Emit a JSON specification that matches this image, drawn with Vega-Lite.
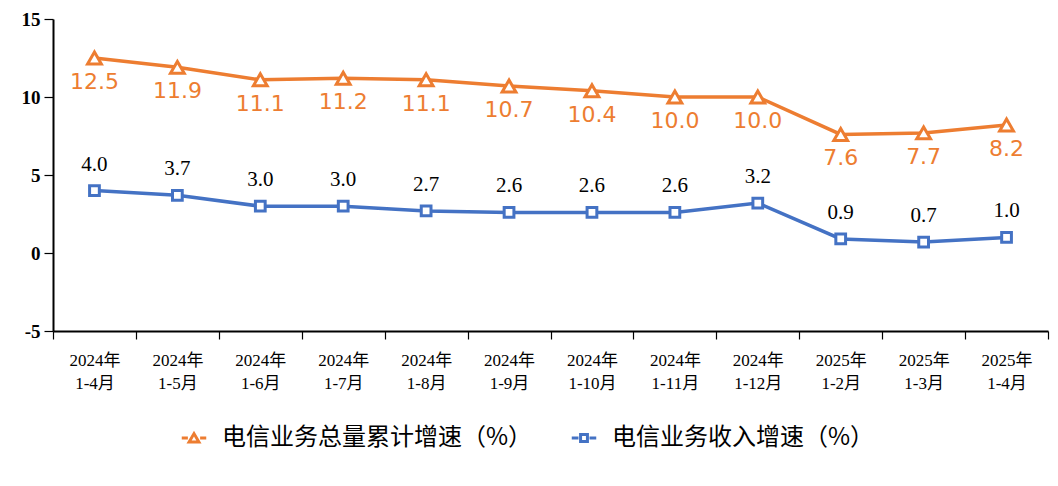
{
  "$schema": "https://vega.github.io/schema/vega-lite/v6.json",
  "autosize": "none",
  "width": 995,
  "height": 312,
  "padding": {"left": 53, "top": 19, "right": 10, "bottom": 155},
  "background": "white",
  "config": {"view": {"stroke": null}},
  "data": {"values": [
    {"p": "2024年|1-4月", "s": "电信业务总量累计增速（%）", "v": 12.5},
    {"p": "2024年|1-5月", "s": "电信业务总量累计增速（%）", "v": 11.9},
    {"p": "2024年|1-6月", "s": "电信业务总量累计增速（%）", "v": 11.1},
    {"p": "2024年|1-7月", "s": "电信业务总量累计增速（%）", "v": 11.2},
    {"p": "2024年|1-8月", "s": "电信业务总量累计增速（%）", "v": 11.1},
    {"p": "2024年|1-9月", "s": "电信业务总量累计增速（%）", "v": 10.7},
    {"p": "2024年|1-10月", "s": "电信业务总量累计增速（%）", "v": 10.4},
    {"p": "2024年|1-11月", "s": "电信业务总量累计增速（%）", "v": 10.0},
    {"p": "2024年|1-12月", "s": "电信业务总量累计增速（%）", "v": 10.0},
    {"p": "2025年|1-2月", "s": "电信业务总量累计增速（%）", "v": 7.6},
    {"p": "2025年|1-3月", "s": "电信业务总量累计增速（%）", "v": 7.7},
    {"p": "2025年|1-4月", "s": "电信业务总量累计增速（%）", "v": 8.2},
    {"p": "2024年|1-4月", "s": "电信业务收入增速（%）", "v": 4.0},
    {"p": "2024年|1-5月", "s": "电信业务收入增速（%）", "v": 3.7},
    {"p": "2024年|1-6月", "s": "电信业务收入增速（%）", "v": 3.0},
    {"p": "2024年|1-7月", "s": "电信业务收入增速（%）", "v": 3.0},
    {"p": "2024年|1-8月", "s": "电信业务收入增速（%）", "v": 2.7},
    {"p": "2024年|1-9月", "s": "电信业务收入增速（%）", "v": 2.6},
    {"p": "2024年|1-10月", "s": "电信业务收入增速（%）", "v": 2.6},
    {"p": "2024年|1-11月", "s": "电信业务收入增速（%）", "v": 2.6},
    {"p": "2024年|1-12月", "s": "电信业务收入增速（%）", "v": 3.2},
    {"p": "2025年|1-2月", "s": "电信业务收入增速（%）", "v": 0.9},
    {"p": "2025年|1-3月", "s": "电信业务收入增速（%）", "v": 0.7},
    {"p": "2025年|1-4月", "s": "电信业务收入增速（%）", "v": 1.0}
  ]},
  "encoding": {
    "x": {"field": "p", "type": "nominal", "sort": null,
      "scale": {"paddingInner": 0, "paddingOuter": 0},
      "axis": {"title": null, "labelAngle": 0, "labelExpr": "split(datum.label, '|')",
        "labelFont": "Liberation Serif, Noto Sans CJK SC", "labelFontSize": 17, "labelColor": "#000",
        "labelLineHeight": 23, "labelPadding": 13, "tickBand": "extent", "tickSize": 8,
        "tickColor": "#000", "tickWidth": 1.2, "domainColor": "#000", "domainWidth": 2}},
    "y": {"field": "v", "type": "quantitative",
      "scale": {"domain": [-5, 15], "nice": false},
      "axis": {"title": null, "values": [-5, 0, 5, 10, 15], "grid": false,
        "labelExpr": "replace(datum.label, '−', '-')",
        "labelFont": "Liberation Serif", "labelFontWeight": "bold", "labelFontSize": 19, "labelColor": "#000",
        "labelPadding": 4, "tickSize": 9, "tickColor": "#000", "tickWidth": 1.2,
        "domainColor": "#000", "domainWidth": 2}},
    "color": {"field": "s", "type": "nominal",
      "scale": {"domain": ["电信业务总量累计增速（%）", "电信业务收入增速（%）"], "range": ["#ED7D31", "#4472C4"]},
      "legend": {"title": null, "orient": "none", "legendX": 127, "legendY": 405, "direction": "horizontal",
        "labelFont": "Noto Sans CJK SC", "labelFontSize": 24, "labelColor": "#000", "columnPadding": 32,
        "symbolSize": 600, "symbolStrokeWidth": 3, "labelOffset": 14, "labelLimit": 400,
        "encode": {"symbols": {"update": {
          "shape": {"signal": "datum.value === '电信业务总量累计增速（%）' ? 'M-1,0H-0.5M0.5,0H1M-0.4,0.32L0,-0.36L0.4,0.32Z' : 'M-1,0H-0.45M0.45,0H1M-0.28,-0.28H0.28V0.28H-0.28Z'"},
          "size": {"value": 600},
          "fill": {"value": "white"}, "fillOpacity": {"value": 1}}}}}}
  },
  "layer": [
    {"mark": {"type": "line", "strokeWidth": 3.5}},
    {"transform": [{"filter": "datum.s === '电信业务总量累计增速（%）'"}],
      "mark": {"type": "point", "shape": "triangle-up", "size": 190, "filled": false, "fill": "white", "fillOpacity": 1, "strokeWidth": 3, "opacity": 1}},
    {"transform": [{"filter": "datum.s === '电信业务收入增速（%）'"}],
      "mark": {"type": "point", "shape": "square", "size": 95, "filled": false, "fill": "white", "fillOpacity": 1, "strokeWidth": 3, "opacity": 1}},
    {"transform": [{"filter": "datum.s === '电信业务总量累计增速（%）'"}],
      "mark": {"type": "text", "dy": 24, "font": "DejaVu Sans", "fontSize": 22},
      "encoding": {"text": {"field": "v", "type": "quantitative", "format": ".1f"}, "color": {"value": "#ED7D31"}}},
    {"transform": [{"filter": "datum.s === '电信业务收入增速（%）'"}],
      "mark": {"type": "text", "dy": -26, "font": "Liberation Serif", "fontSize": 21},
      "encoding": {"text": {"field": "v", "type": "quantitative", "format": ".1f"}, "color": {"value": "#000"}}}
  ]
}
